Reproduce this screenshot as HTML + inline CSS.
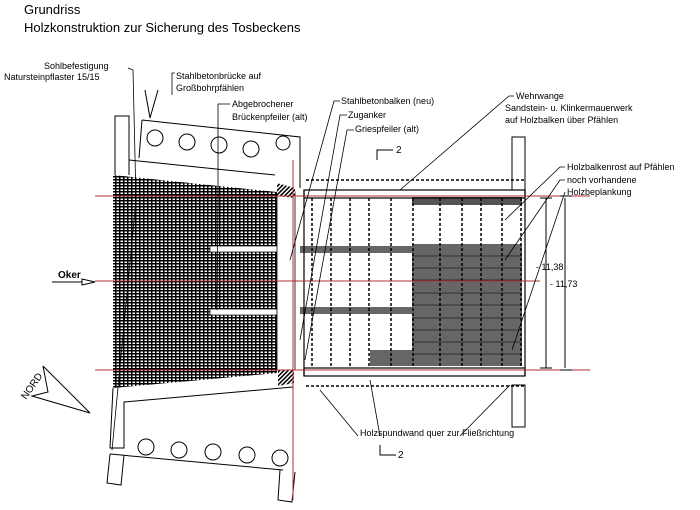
<!DOCTYPE html>
<html><head><meta charset="utf-8"><style>
html,body{margin:0;padding:0;background:#fff}
svg{display:block}
text{font-family:"Liberation Sans",sans-serif;fill:#000}
</style></head><body>
<svg width="700" height="510" viewBox="0 0 700 510" xmlns="http://www.w3.org/2000/svg">
<defs>
<pattern id="br" width="4" height="3" patternUnits="userSpaceOnUse">
<rect width="4" height="3" fill="#000"/><rect x="0.5" y="0.5" width="2.5" height="1.5" fill="#fff"/>
</pattern>
<pattern id="hb" width="3" height="3" patternUnits="userSpaceOnUse" patternTransform="rotate(45)">
<rect width="3" height="3" fill="#fff"/><rect width="1.5" height="3" fill="#000"/>
</pattern>
</defs>
<text x="24" y="14" font-size="13" fill="#222">Grundriss</text>
<text x="24" y="32" font-size="13" fill="#222">Holzkonstruktion zur Sicherung des Tosbeckens</text>

<polygon points="113,175 277,192 277,373 113,388" fill="url(#br)"/>
<rect x="210" y="246" width="80" height="6" fill="#fff" stroke="#000" stroke-width="0.7"/>
<rect x="210" y="309" width="80" height="6" fill="#fff" stroke="#000" stroke-width="0.7"/>
<rect x="277" y="192" width="18" height="178" fill="#fff" stroke="#000" stroke-width="0.8"/>
<polygon points="277,183 295,188 295,198 277,196" fill="url(#hb)"/>
<polygon points="278,370 294,370 294,383 278,386" fill="url(#hb)"/>

<g fill="none" stroke="#000" stroke-width="1">
<!-- upper bridge -->
<polyline points="129,160 275,175"/>
<polyline points="115,175 115,116 129,116 129,175"/>
<polyline points="142,120 300,137 300,188"/>
<polyline points="142,120 139,158"/>
<polyline points="145,90 150,118 158,90"/>
<circle cx="155" cy="138" r="8"/><circle cx="187" cy="142" r="8"/><circle cx="219" cy="145" r="8"/><circle cx="251" cy="149" r="8"/><circle cx="283" cy="143" r="7"/>
<!-- lower bridge -->
<polyline points="113,388 110,448 124,448 124,402 293,387"/>
<polyline points="110,454 283,470"/>
<polyline points="110,454 107,483 121,485 124,455"/>
<polyline points="280,470 278,500 292,502 295,472"/>
<circle cx="146" cy="447" r="8"/><circle cx="179" cy="450" r="8"/><circle cx="213" cy="452" r="8"/><circle cx="247" cy="455" r="8"/><circle cx="280" cy="458" r="8"/>
<!-- right end pieces -->
<rect x="512" y="137" width="13" height="53"/>
<rect x="512" y="385" width="13" height="42"/>
</g>

<rect x="412" y="197" width="110" height="8" fill="#555"/>
<rect x="412" y="244" width="110" height="122" fill="#666"/>
<rect x="370" y="350" width="42" height="16" fill="#666"/>
<rect x="300" y="246" width="112" height="7" fill="#666"/>
<rect x="300" y="307" width="112" height="7" fill="#666"/>
<g stroke="#000" stroke-width="0.6">
<line x1="412" y1="256" x2="522" y2="256"/><line x1="412" y1="268" x2="522" y2="268"/><line x1="412" y1="280" x2="522" y2="280"/><line x1="412" y1="293" x2="522" y2="293"/><line x1="412" y1="305" x2="522" y2="305"/><line x1="412" y1="318" x2="522" y2="318"/><line x1="412" y1="330" x2="522" y2="330"/><line x1="412" y1="342" x2="522" y2="342"/><line x1="412" y1="354" x2="522" y2="354"/>
</g>
<g fill="none" stroke="#000" stroke-width="1.2">
<rect x="304" y="190" width="221" height="8"/>
<rect x="304" y="368" width="221" height="8"/>
<line x1="304" y1="190" x2="304" y2="376"/>
<line x1="525" y1="190" x2="525" y2="376"/>
</g>
<g stroke="#000" stroke-width="1.5" fill="none" stroke-dasharray="3,2">
<line x1="312" y1="198" x2="312" y2="368"/><line x1="331" y1="198" x2="331" y2="368"/><line x1="350" y1="198" x2="350" y2="368"/><line x1="369" y1="198" x2="369" y2="368"/><line x1="391" y1="198" x2="391" y2="368"/><line x1="413" y1="198" x2="413" y2="368"/><line x1="440" y1="198" x2="440" y2="368"/><line x1="462" y1="198" x2="462" y2="368"/><line x1="481" y1="198" x2="481" y2="368"/><line x1="502" y1="198" x2="502" y2="368"/><line x1="521" y1="198" x2="521" y2="368"/>
<line x1="306" y1="180" x2="525" y2="180"/><line x1="306" y1="386" x2="525" y2="386"/>
</g>

<g stroke="#b03030" stroke-width="1">
<line x1="95" y1="196" x2="590" y2="196"/>
<line x1="95" y1="370" x2="590" y2="370"/>
<line x1="95" y1="281" x2="540" y2="281"/>
<line x1="293" y1="160" x2="293" y2="500"/>
</g>

<g stroke="#000" stroke-width="1">
<line x1="546" y1="198" x2="546" y2="368"/><line x1="565" y1="198" x2="565" y2="368"/>
<line x1="540" y1="198" x2="552" y2="198"/><line x1="540" y1="368" x2="552" y2="368"/>
<line x1="560" y1="196" x2="572" y2="196"/><line x1="560" y1="370" x2="572" y2="370"/>
</g>
<text x="536" y="270" font-size="9">- 11,38</text>
<text x="550" y="287" font-size="9">- 11,73</text>

<g stroke="#000" fill="none" stroke-width="1"><polyline points="377,160 377,150 393,150"/><polyline points="380,445 380,455 396,455"/></g>
<text x="396" y="153" font-size="10">2</text><text x="398" y="458" font-size="10">2</text>

<text x="58" y="278" font-size="10" font-weight="bold">Oker</text>
<line x1="52" y1="282" x2="82" y2="282" stroke="#000"/>
<polygon points="82,279 95,282 82,285" fill="#fff" stroke="#000"/>

<g fill="none" stroke="#000" stroke-width="1">
<polyline points="43,366 90,413 32,396 48,392 43,366"/>
</g>
<text x="0" y="0" font-size="10" fill="#555" transform="translate(26,400) rotate(-55)">NORD</text>

<g font-size="9">
<text x="44" y="69">Sohlbefestigung</text>
<text x="4" y="80">Natursteinpflaster 15/15</text>
<text x="176" y="79">Stahlbetonbrücke auf</text>
<text x="176" y="91">Großbohrpfählen</text>
<text x="232" y="107">Abgebrochener</text>
<text x="232" y="120">Brückenpfeiler (alt)</text>
<text x="341" y="104">Stahlbetonbalken (neu)</text>
<text x="348" y="118">Zuganker</text>
<text x="355" y="132">Griespfeiler (alt)</text>
<text x="516" y="99">Wehrwange</text>
<text x="505" y="111">Sandstein- u. Klinkermauerwerk</text>
<text x="505" y="123">auf Holzbalken über Pfählen</text>
<text x="567" y="170">Holzbalkenrost auf Pfählen</text>
<text x="567" y="183">noch vorhandene</text>
<text x="567" y="195">Holzbeplankung</text>
<text x="360" y="436">Holzspundwand quer zur Fließrichtung</text>
</g>
<g fill="none" stroke="#000" stroke-width="0.8">
<polyline points="128,68 133,70 136,200 112,450"/>
<polyline points="175,73 172,73 172,95"/>
<polyline points="230,104 218,104 218,195 217,310"/>
<polyline points="340,101 334,101 290,260"/>
<polyline points="347,115 340,115 300,340"/>
<polyline points="354,130 347,130 305,360"/>
<polyline points="514,96 509,96 400,190"/>
<polyline points="565,167 560,167 505,220"/>
<polyline points="565,180 560,180 505,260"/>
<polyline points="565,192 512,350"/>
<polyline points="358,436 320,390"/>
<polyline points="380,436 370,380"/>
<polyline points="460,436 510,385"/>
</g>
</svg>
</body></html>
